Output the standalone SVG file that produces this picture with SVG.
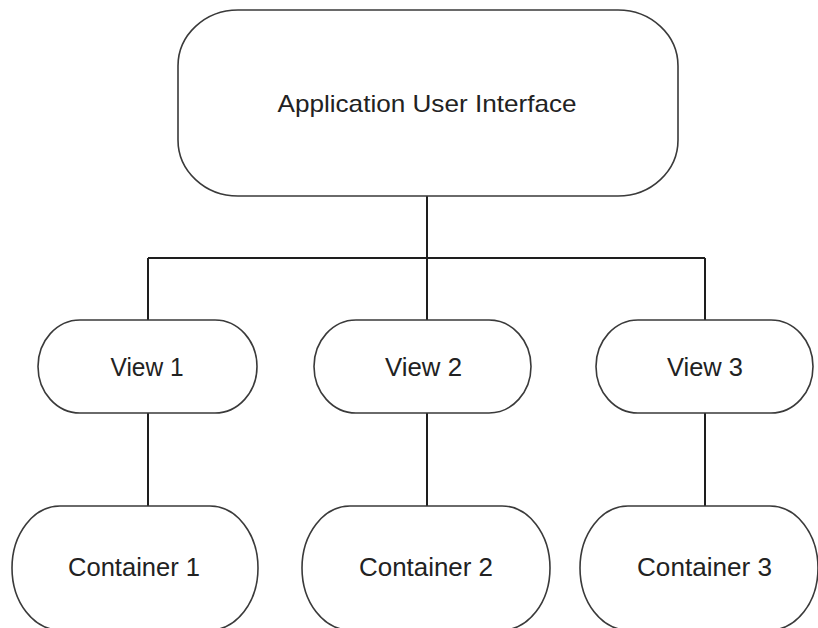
<svg xmlns="http://www.w3.org/2000/svg" width="818" height="628" viewBox="0 0 818 628">
  <style>
    .shape { fill: #ffffff; stroke: #3a3a3a; stroke-width: 1.6; }
    .wire { fill: none; stroke: #1e1e1e; stroke-width: 2; }
    text { font-family: "Liberation Sans", Arial, sans-serif; fill: #222222; text-anchor: middle; }
    .big { font-size: 24px; }
    .mid { font-size: 26px; }
  </style>
  <rect width="818" height="628" fill="#ffffff"/>

  <!-- connectors -->
  <g id="connectors">
    <path class="wire" d="M427 196 V258 M148 258 H705 M148 258 V320 M427 258 V320 M705 258 V320"/>
    <path class="wire" d="M148 413 V506 M427 413 V506 M705 413 V506"/>
  </g>

  <!-- root -->
  <g id="app-ui">
    <rect class="shape" x="178" y="10" width="500" height="186" rx="60" ry="56"/>
    <text class="big" x="427" y="112" textLength="299" lengthAdjust="spacingAndGlyphs">Application User Interface</text>
  </g>

  <!-- views -->
  <g id="view1">
    <rect class="shape" x="38" y="320" width="219" height="93" rx="42" ry="46.5"/>
    <text class="mid" x="147" y="376" textLength="73" lengthAdjust="spacingAndGlyphs">View 1</text>
  </g>
  <g id="view2">
    <rect class="shape" x="314" y="320" width="217" height="93" rx="42" ry="46.5"/>
    <text class="mid" x="423.5" y="376" textLength="77" lengthAdjust="spacingAndGlyphs">View 2</text>
  </g>
  <g id="view3">
    <rect class="shape" x="596" y="320" width="217" height="93" rx="42" ry="46.5"/>
    <text class="mid" x="705" y="376" textLength="76" lengthAdjust="spacingAndGlyphs">View 3</text>
  </g>

  <!-- containers -->
  <g id="container1">
    <rect class="shape" x="12" y="506" width="246" height="124" rx="48" ry="62"/>
    <text class="mid" x="134" y="576" textLength="132" lengthAdjust="spacingAndGlyphs">Container 1</text>
  </g>
  <g id="container2">
    <rect class="shape" x="302" y="506" width="248" height="124" rx="48" ry="62"/>
    <text class="mid" x="426" y="576" textLength="134" lengthAdjust="spacingAndGlyphs">Container 2</text>
  </g>
  <g id="container3">
    <rect class="shape" x="580" y="506" width="238" height="124" rx="48" ry="62"/>
    <text class="mid" x="704.5" y="576" textLength="135" lengthAdjust="spacingAndGlyphs">Container 3</text>
  </g>
</svg>
